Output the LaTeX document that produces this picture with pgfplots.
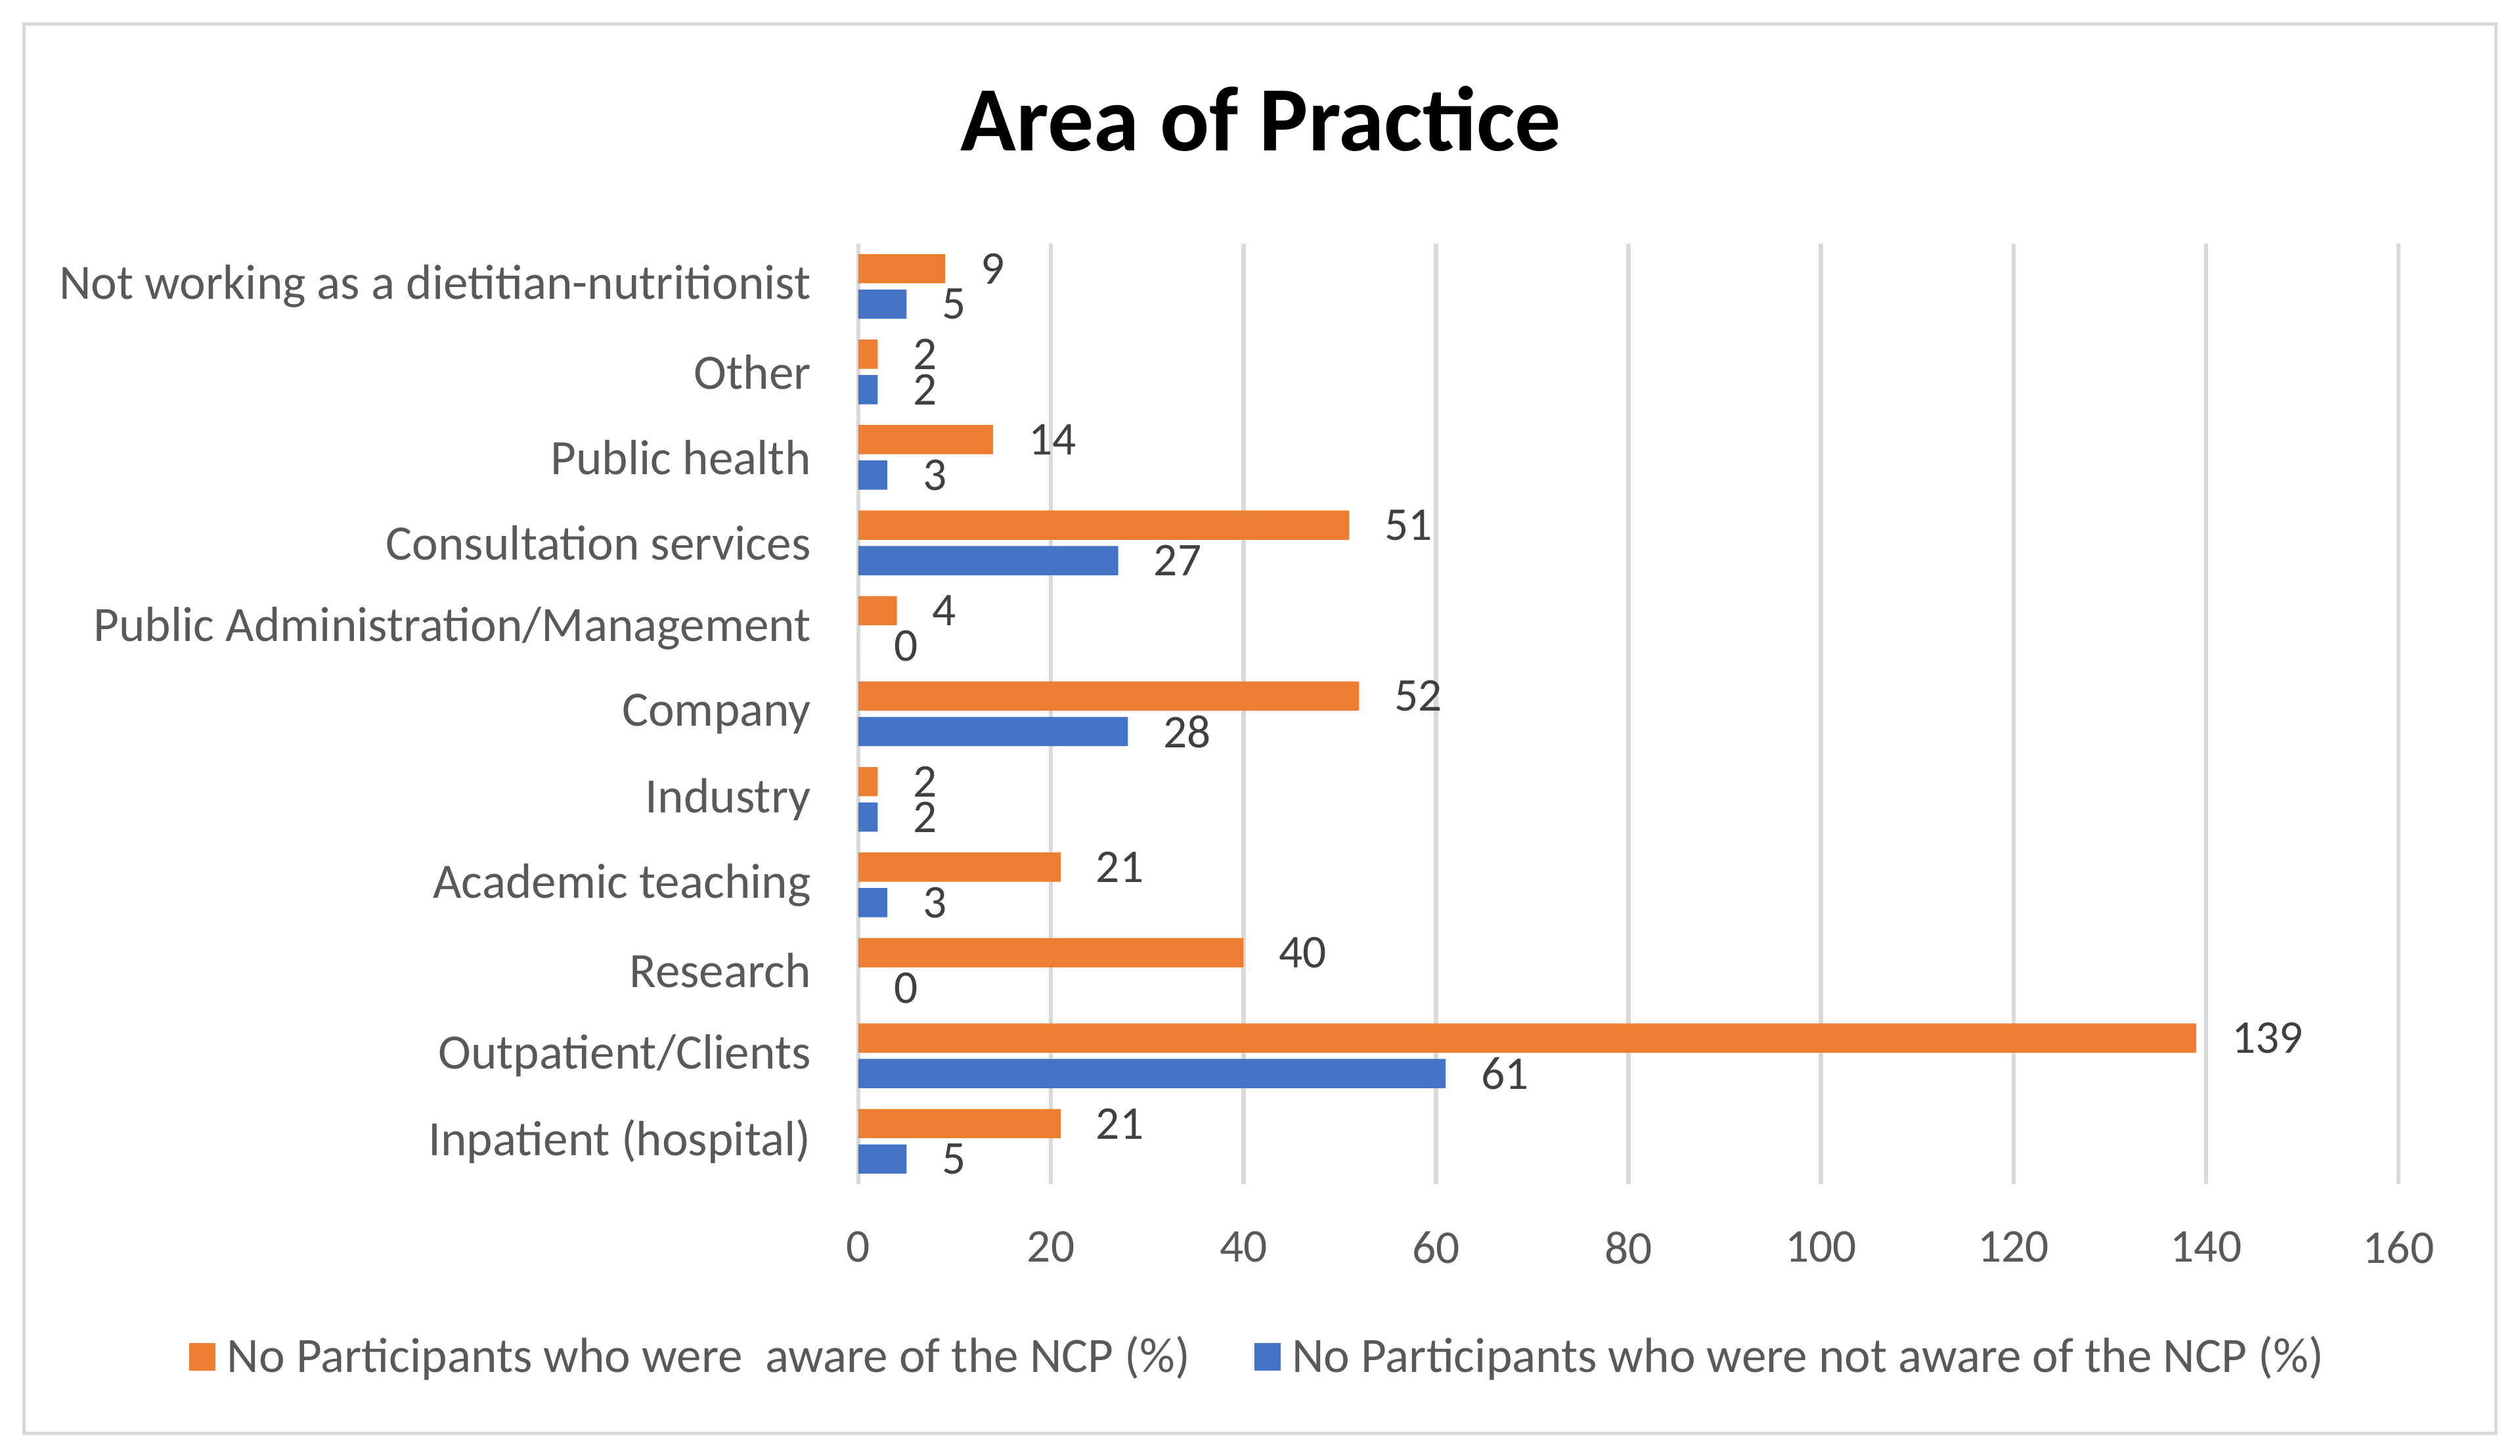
\documentclass[border=0pt]{standalone}
\usepackage{fontspec}
\setmainfont{Carlito}
\usepackage{pgfplots}
\pgfplotsset{compat=1.18}
\definecolor{cOrange}{HTML}{ED7D31}
\definecolor{cBlue}{HTML}{4472C4}
\definecolor{cGrid}{HTML}{D9D9D9}
\definecolor{cText}{HTML}{595959}
\definecolor{cLabel}{HTML}{404040}
\newcommand{\numfont}{\fontsize{14.3}{17}\selectfont}
\newcommand{\txtfont}{\fontsize{15.05}{18}\selectfont}
\begin{document}
\begin{tikzpicture}
\path[use as bounding box] (-261.4pt,-82.8pt) rectangle (506pt,360.6pt);
\draw[cGrid, line width=1pt] (-254pt,-76pt) rectangle (498.6pt,353.2pt);
\node[anchor=base, font=\fontsize{28}{32}\selectfont\bfseries, text=black] at (122.6pt,314.6pt) {Area of Practice};
\begin{axis}[
  at={(0pt,0pt)}, anchor=south west,
  scale only axis, width=469pt, height=286.4pt,
  xmin=0, xmax=160, ymin=-0.5, ymax=10.5,
  xtick={0,20,...,160}, ytick={0,...,10},
  yticklabels={Inpatient (hospital)\ , Outpatient/Clients, Research, Academic teaching, Industry, Company, Public Administration/Management, Consultation services, Public health, Other, Not working as a dietitian-nutritionist},
  xmajorgrids, major grid style={cGrid, line width=1.3pt},
  axis line style={draw=none},
  major tick length=0pt,
  tick label style={text=cText},
  xticklabel style={font=\numfont, yshift=-10.9pt},
  yticklabel style={font=\txtfont, xshift=-10.9pt},
  /pgf/number format/assume math mode=true,
  xbar, bar width=8.9pt,
  nodes near coords,
  nodes near coords style={anchor=west, xshift=7.3pt, font=\numfont, text=cLabel},
  legend style={draw=none, fill=none, at={(0.2606,-0.1837)}, anchor=center,
    legend columns=2, font=\txtfont, text=cText,
    /tikz/every odd column/.append style={column sep=1.5pt},
    /tikz/every even column/.append style={column sep=17.5pt}},
  legend image code/.code={\fill[#1] (0pt,-4.2pt) rectangle (8pt,4.2pt);},
]
\addplot[fill=cOrange, draw=none, bar shift=5.4pt] coordinates {
  (21,0) (139,1) (40,2) (21,3) (2,4) (52,5) (4,6) (51,7) (14,8) (2,9) (9,10)};
\addlegendentry{No Participants who were\ \ aware of the NCP (\%)}
\addplot[fill=cBlue, draw=none, bar shift=-5.4pt] coordinates {
  (5,0) (61,1) (0,2) (3,3) (2,4) (28,5) (0,6) (27,7) (3,8) (2,9) (5,10)};
\addlegendentry{No Participants who were not aware of the NCP (\%)}
\end{axis}
\end{tikzpicture}
\end{document}
